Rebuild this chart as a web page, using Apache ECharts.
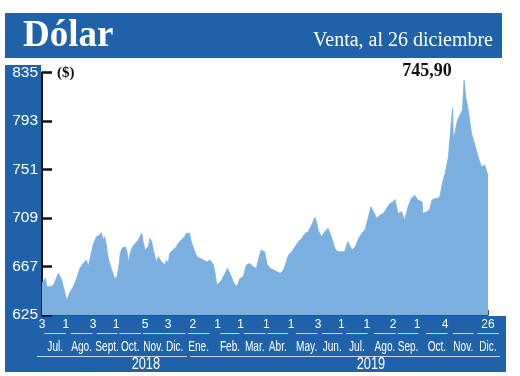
<!DOCTYPE html>
<html>
<head>
<meta charset="utf-8">
<script src="https://cdn.jsdelivr.net/npm/echarts@6/dist/echarts.min.js"></script>
<style>
html,body{margin:0;padding:0;background:#fff;}
#chart{width:520px;height:376px;}
</style>
</head>
<body>
<div id="chart"></div>
<script>
// ---- Data ----
const dates = [
'2018-07-03','2018-07-07','2018-07-09','2018-07-13','2018-07-17','2018-07-21','2018-07-23','2018-07-25','2018-07-27','2018-07-29','2018-07-31',
'2018-08-02','2018-08-04','2018-08-06','2018-08-08','2018-08-10','2018-08-14','2018-08-18','2018-08-22','2018-08-26','2018-08-28','2018-08-30',
'2018-09-03','2018-09-07','2018-09-11','2018-09-13','2018-09-15','2018-09-17','2018-09-19','2018-09-21','2018-09-23','2018-09-27','2018-09-29',
'2018-10-02','2018-10-04','2018-10-06','2018-10-08','2018-10-12','2018-10-14','2018-10-16','2018-10-18','2018-10-20','2018-10-22','2018-10-24','2018-10-26','2018-10-28','2018-10-30',
'2018-11-01','2018-11-03','2018-11-05','2018-11-07','2018-11-09','2018-11-11','2018-11-13','2018-11-15','2018-11-17','2018-11-19','2018-11-21','2018-11-23','2018-11-25','2018-11-27','2018-11-29',
'2018-12-01','2018-12-03','2018-12-05','2018-12-07','2018-12-09','2018-12-11','2018-12-13','2018-12-15','2018-12-17','2018-12-19','2018-12-21','2018-12-23','2018-12-25','2018-12-27','2018-12-29','2018-12-31',
'2019-01-03','2019-01-05','2019-01-07','2019-01-11','2019-01-15','2019-01-19','2019-01-23','2019-01-27','2019-01-29','2019-01-31',
'2019-02-02','2019-02-06','2019-02-10','2019-02-13','2019-02-16','2019-02-20','2019-02-24','2019-02-26','2019-02-28',
'2019-03-04','2019-03-08','2019-03-12','2019-03-16','2019-03-20','2019-03-24','2019-03-26','2019-03-28','2019-03-30',
'2019-04-02','2019-04-06','2019-04-10','2019-04-14','2019-04-18','2019-04-20','2019-04-22','2019-04-24','2019-04-28',
'2019-05-02','2019-05-06','2019-05-10','2019-05-14','2019-05-18','2019-05-22','2019-05-26','2019-05-30',
'2019-06-01','2019-06-03','2019-06-07','2019-06-11','2019-06-15','2019-06-19','2019-06-23','2019-06-27',
'2019-07-01','2019-07-05','2019-07-09','2019-07-14','2019-07-18','2019-07-22','2019-07-26','2019-07-30',
'2019-08-03','2019-08-06','2019-08-09','2019-08-13','2019-08-17','2019-08-21','2019-08-25','2019-08-29',
'2019-09-02','2019-09-04','2019-09-08','2019-09-12','2019-09-16','2019-09-20','2019-09-24','2019-09-28',
'2019-10-02','2019-10-07','2019-10-08','2019-10-13','2019-10-16','2019-10-19','2019-10-23','2019-10-27','2019-10-29',
'2019-11-01','2019-11-04','2019-11-08','2019-11-11','2019-11-13','2019-11-14','2019-11-16','2019-11-19','2019-11-22','2019-11-25','2019-11-27','2019-11-29',
'2019-12-02','2019-12-06','2019-12-10','2019-12-14','2019-12-18','2019-12-22','2019-12-26'
];
const values = [
652.4,656.7,649.5,649.5,651,658,661,662.5,655,649.5,643.7,
638,641,645,646.6,649.5,656.7,665.4,669.7,672.6,666.8,672.6,
685.6,692.8,694.2,696.2,690,692.8,685.6,675.5,669.7,661,656.7,
658,665.4,678.4,682.7,684,679.8,671,678.4,682.7,684,687,688.5,690,691.3,
695.7,687,681.2,679.8,684,691.3,688.5,681.2,675.5,671,675.5,674,671,669.7,668.3,
672.6,669.7,678.4,677,681.2,679.8,684,687,688.5,690,691.3,692.8,695.7,696.2,695.7,688.5,
682.7,678.4,675.5,674,672.6,671,672.6,668.3,661,651,
650,655.3,661,665.4,661,653.8,649.5,652.4,656.7,
658.2,668.3,669.7,666.8,665.4,676.9,681.2,682.7,679.8,
669,665.4,663.9,662.5,661,662.5,663.9,668.3,676.9,
679.8,684.1,688.4,691.3,695.7,697.1,702.9,709.5,
705.7,698.5,692.8,697.1,700,692.8,682.7,679.8,
679.8,679.8,688.4,681.2,684.1,691.3,695.7,699.2,
710,718.7,714.4,708.7,711.5,713,717.3,721.6,
723,725.1,713,714.4,707.2,718.7,726,728.8,
724.5,723,713,714.4,715.9,724.5,726,726,728.8,
740.3,747.6,762,788,803.9,776.4,777.9,793.7,798.1,802.4,828.3,813.9,
802.4,782.2,772.1,762,753.3,754.8,745.9
];
const yTicks = [625, 667, 709, 751, 793, 835];
const dayTickDates = ['2018-07-03','2018-08-01','2018-09-03','2018-10-01','2018-11-05','2018-12-03','2019-01-02','2019-02-01','2019-03-01','2019-04-01','2019-05-01','2019-06-03','2019-07-01','2019-08-01','2019-09-02','2019-10-01','2019-11-04','2019-12-26'];
const dayTickLabels = ['3','1','3','1','5','3','2','1','1','1','1','3','1','1','2','1','4','26'];
const monthLabelDates = ['2018-07-19','2018-08-20','2018-09-20','2018-10-18','2018-11-15','2018-12-11','2019-01-09','2019-02-16','2019-03-18','2019-04-15','2019-05-20','2019-06-20','2019-07-20','2019-08-23','2019-09-20','2019-10-25','2019-11-26','2019-12-26'];
const monthLabels = ['Jul.','Ago.','Sept.','Oct.','Nov.','Dic.','Ene.','Feb.','Mar.','Abr.','May.','Jun.','Jul.','Ago.','Sep.','Oct.','Nov.','Dic.'];
const monthDays = [31,31,30,31,30,31,31,28,31,30,31,30,31,31,30,31,30,31];
const yearLabelDates = ['2018-11-06','2019-08-06'];
const yearLabels = ['2018','2019'];
const title = 'Dólar';
const subtitle = 'Venta, al 26 diciembre';
const unitLabel = '($)';
const lastValueLabel = '745,90';

// ---- Chart ----
const ts = d => Date.parse(d + 'T00:00:00Z');
const xMin = ts(dates[0]);
const xMax = ts(dates[dates.length - 1]);
const dayMap = {}; dayTickDates.forEach((d, i) => dayMap[ts(d)] = dayTickLabels[i]);

const BLUE = '#1f62aa';
const AREA = '#7aafe0';
const sans = "'Liberation Sans', Arial, sans-serif";
const serif = "'Liberation Serif', 'DejaVu Serif', serif";

const chart = echarts.init(document.getElementById('chart'), null, {renderer: 'canvas'});

const option = {
  animation: false,
  backgroundColor: '#ffffff',
  grid: {left: 42, right: 32, top: 72.5, bottom: 61, containLabel: false},
  xAxis: {
    type: 'value', min: xMin, max: xMax, splitLine: {show: false},
    axisLine: {show: true, lineStyle: {color: '#111', width: 1.5}},
    axisTick: {show: true, inside: true, length: 5, customValues: [xMax], lineStyle: {color: '#111', width: 1.5}},
    axisLabel: {customValues: dayTickDates.map(ts), formatter: v => dayMap[v] || '', color: '#fff', fontFamily: sans, fontSize: 12, margin: 4, showMinLabel: true, showMaxLabel: true, hideOverlap: false}
  },
  yAxis: {
    type: 'value', min: yTicks[0], max: yTicks[yTicks.length - 1],
    splitLine: {show: false},
    axisLine: {show: true, lineStyle: {color: '#111', width: 2}},
    axisTick: {show: true, inside: true, length: 10, customValues: yTicks, lineStyle: {color: '#111', width: 2.5}},
    axisLabel: {customValues: yTicks, color: '#fff', fontFamily: sans, fontSize: 15.5, margin: 4}
  },
  series: [{
    type: 'line',
    data: dates.map((d, i) => [ts(d), values[i]]),
    showSymbol: false,
    lineStyle: {width: 0.8, color: AREA},
    areaStyle: {color: AREA, opacity: 1},
    z: 2
  }]
};
chart.setOption(option);

// decorations: bands, titles, month/year rows (placed through the x scale), underlines
const g = [];
const px = d => chart.convertToPixel({xAxisIndex: 0}, ts(d));
g.push({type: 'rect', shape: {x: 5, y: 13, width: 497, height: 45}, style: {fill: BLUE}, z: -10});
g.push({type: 'rect', shape: {x: 5, y: 65, width: 36, height: 252}, style: {fill: BLUE}, z: -10});
g.push({type: 'rect', shape: {x: 5, y: 316, width: 501, height: 56}, style: {fill: BLUE}, z: -10});
g.push({type: 'text', x: 23, y: 36, style: {text: title, fill: '#fff', font: 'bold 37px ' + serif, textVerticalAlign: 'middle'}, z: 10});
g.push({type: 'text', x: 493, y: 41, style: {text: subtitle, fill: '#fff', font: '20px ' + serif, textAlign: 'right', textVerticalAlign: 'middle'}, z: 10});
g.push({type: 'text', x: 57, y: 73, style: {text: unitLabel, fill: '#111', font: 'bold 15px ' + serif, textVerticalAlign: 'middle'}, z: 10});
g.push({type: 'text', x: 427, y: 71, style: {text: lastValueLabel, fill: '#111', font: 'bold 18px ' + serif, textAlign: 'center', textVerticalAlign: 'middle'}, z: 10});
const pxPerDay = (px(dates[dates.length - 1]) - px(dates[0])) / ((xMax - xMin) / 86400000);
monthLabelDates.forEach((d, i) => {
  const cx = px(d);
  const half = (monthDays[i] * pxPerDay - 4) / 2;
  g.push({type: 'line', shape: {x1: cx - half, y1: 333.5, x2: cx + half, y2: 333.5}, style: {stroke: 'rgba(255,255,255,0.75)', lineWidth: 1}, z: 10});
  g.push({type: 'text', x: cx, y: 347.5, scaleX: 0.72, style: {text: monthLabels[i], fill: '#fff', font: '14px ' + sans, textAlign: 'center', textVerticalAlign: 'middle'}, z: 10});
});
yearLabelDates.forEach((d, i) => {
  g.push({type: 'text', x: px(d), y: 364.5, scaleX: 0.8, style: {text: yearLabels[i], fill: '#fff', font: '16px ' + sans, textAlign: 'center', textVerticalAlign: 'middle'}, z: 10});
});
g.push({type: 'line', shape: {x1: 37, y1: 356.5, x2: 187, y2: 356.5}, style: {stroke: 'rgba(255,255,255,0.75)', lineWidth: 1}, z: 10});
g.push({type: 'line', shape: {x1: 190, y1: 356.5, x2: 500, y2: 356.5}, style: {stroke: 'rgba(255,255,255,0.75)', lineWidth: 1}, z: 10});
chart.setOption({graphic: {elements: g}});
</script>
</body>
</html>
